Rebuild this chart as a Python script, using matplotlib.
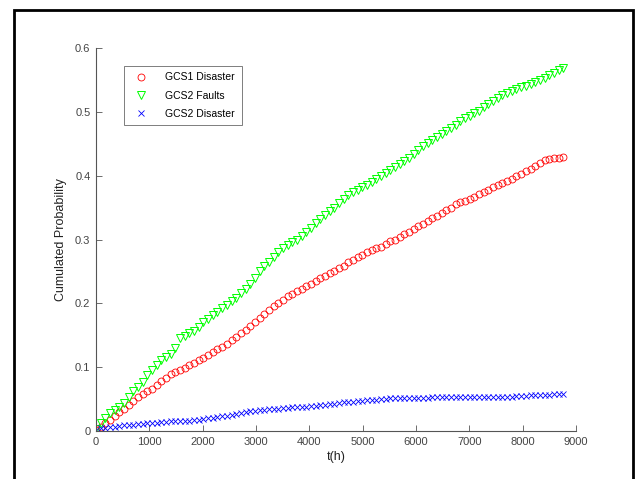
import numpy as np
import matplotlib
matplotlib.use("Agg")
import matplotlib.pyplot as plt
from matplotlib.patches import Rectangle
from matplotlib.ticker import FormatStrFormatter

plt.rcParams['font.family'] = ['Liberation Sans', 'DejaVu Sans']

# time grid (hours over one year, 100 steps)
t_hours = np.arange(101) * 87.6

gcs1_disaster = [
    0.002, 0.007, 0.012, 0.018, 0.023, 0.029, 0.035, 0.041, 0.047, 0.053,
    0.058, 0.062, 0.066, 0.072, 0.078, 0.083, 0.089, 0.092, 0.096, 0.099,
    0.103, 0.107, 0.111, 0.115, 0.119, 0.123, 0.128, 0.132, 0.137, 0.142,
    0.147, 0.153, 0.159, 0.165, 0.171, 0.177, 0.184, 0.190, 0.196, 0.201,
    0.206, 0.211, 0.215, 0.219, 0.223, 0.227, 0.231, 0.235, 0.239, 0.243,
    0.247, 0.251, 0.255, 0.259, 0.264, 0.268, 0.272, 0.276, 0.280, 0.283,
    0.286, 0.289, 0.293, 0.297, 0.300, 0.304, 0.308, 0.312, 0.316, 0.321,
    0.325, 0.329, 0.333, 0.337, 0.342, 0.346, 0.350, 0.355, 0.358, 0.361,
    0.364, 0.367, 0.371, 0.375, 0.378, 0.382, 0.385, 0.388, 0.391, 0.395,
    0.399, 0.403, 0.407, 0.411, 0.415, 0.420, 0.424, 0.426, 0.427, 0.428,
    0.430,
]

gcs2_faults = [
    0.003, 0.013, 0.021, 0.028, 0.033, 0.038, 0.044, 0.053, 0.062, 0.069,
    0.077, 0.087, 0.096, 0.104, 0.111, 0.116, 0.121, 0.130, 0.145, 0.149,
    0.153, 0.157, 0.163, 0.170, 0.176, 0.181, 0.187, 0.192, 0.197, 0.203,
    0.209, 0.216, 0.223, 0.231, 0.240, 0.250, 0.258, 0.265, 0.273, 0.280,
    0.286, 0.291, 0.296, 0.300, 0.305, 0.311, 0.318, 0.326, 0.332, 0.338,
    0.344, 0.350, 0.357, 0.363, 0.369, 0.375, 0.378, 0.382, 0.385, 0.390,
    0.395, 0.399, 0.404, 0.409, 0.414, 0.418, 0.423, 0.428, 0.434, 0.440,
    0.446, 0.451, 0.456, 0.461, 0.466, 0.470, 0.475, 0.480, 0.485, 0.490,
    0.494, 0.498, 0.502, 0.507, 0.512, 0.517, 0.522, 0.526, 0.529, 0.532,
    0.535, 0.539, 0.541, 0.544, 0.547, 0.550, 0.553, 0.557, 0.561, 0.566,
    0.569,
]

gcs2_disaster = [
    0.002, 0.004, 0.005, 0.006, 0.007, 0.008, 0.009, 0.010, 0.010, 0.011,
    0.011, 0.012, 0.012, 0.013, 0.014, 0.014, 0.015, 0.015, 0.016, 0.016,
    0.016, 0.017, 0.018, 0.019, 0.020, 0.021, 0.022, 0.023, 0.024, 0.025,
    0.026, 0.028, 0.030, 0.031, 0.032, 0.033, 0.033, 0.034, 0.035, 0.035,
    0.036, 0.036, 0.037, 0.037, 0.038, 0.038, 0.039, 0.039, 0.040, 0.041,
    0.042, 0.043, 0.044, 0.045, 0.045, 0.046, 0.047, 0.047, 0.048, 0.049,
    0.049, 0.050, 0.050, 0.051, 0.051, 0.052, 0.052, 0.052, 0.052, 0.052,
    0.052, 0.052, 0.053, 0.053, 0.053, 0.053, 0.053, 0.053, 0.053, 0.053,
    0.053, 0.053, 0.054, 0.054, 0.054, 0.054, 0.054, 0.054, 0.054, 0.054,
    0.055, 0.055, 0.055, 0.056, 0.056, 0.057, 0.057, 0.057, 0.058, 0.058,
    0.058,
]

fig = plt.figure(figsize=(6.41, 4.79), dpi=100)

# black frame around the figure (bottom edge is cut off in the original)
fig.patches.append(Rectangle((0.022, -0.05), 0.966, 1.029, transform=fig.transFigure,
                             fill=False, edgecolor='black', linewidth=2))

ax = fig.add_axes([0.1498, 0.1002, 0.7488, 0.7996])

ax.plot(t_hours, gcs1_disaster, linestyle='none', marker='o', markersize=5,
        markerfacecolor='none', markeredgecolor='#ff0000', markeredgewidth=0.6,
        label='GCS1 Disaster')
ax.plot(t_hours, gcs2_faults, linestyle='none', marker='v', markersize=5.8,
        markerfacecolor='none', markeredgecolor='#00ff00', markeredgewidth=0.7,
        label='GCS2 Faults')
ax.plot(t_hours, gcs2_disaster, linestyle='none', marker='x', markersize=4,
        markeredgecolor='#0000ff', markeredgewidth=0.6,
        label='GCS2 Disaster')

ax.set_xlim(0, 9000)
ax.set_ylim(0, 0.6)
ax.set_xticks(np.arange(0, 9001, 1000))
ax.set_yticks(np.arange(0, 0.61, 0.1))
ax.yaxis.set_major_formatter(FormatStrFormatter('%g'))

for side in ['top', 'right']:
    ax.spines[side].set_visible(False)
for side in ['left', 'bottom']:
    ax.spines[side].set_color('#555555')
    ax.spines[side].set_linewidth(0.8)

ax.tick_params(direction='in', length=4, width=0.6, colors='#555555',
               labelsize=8, labelcolor='#444444', pad=4)

ax.set_xlabel('t(h)', fontsize=9, color='#222222', labelpad=3)
ax.set_ylabel('Cumulated Probability', fontsize=9, color='#222222', labelpad=6)

leg = ax.legend(loc='upper left', bbox_to_anchor=(0.052, 0.962), fontsize=7.5,
                frameon=True, fancybox=False, borderpad=0.65, labelspacing=0.78,
                handletextpad=1.3, handlelength=2.0, borderaxespad=0.3)
leg.get_frame().set_edgecolor('#444444')
leg.get_frame().set_linewidth(0.6)

fig.savefig('out.png', dpi=100)
